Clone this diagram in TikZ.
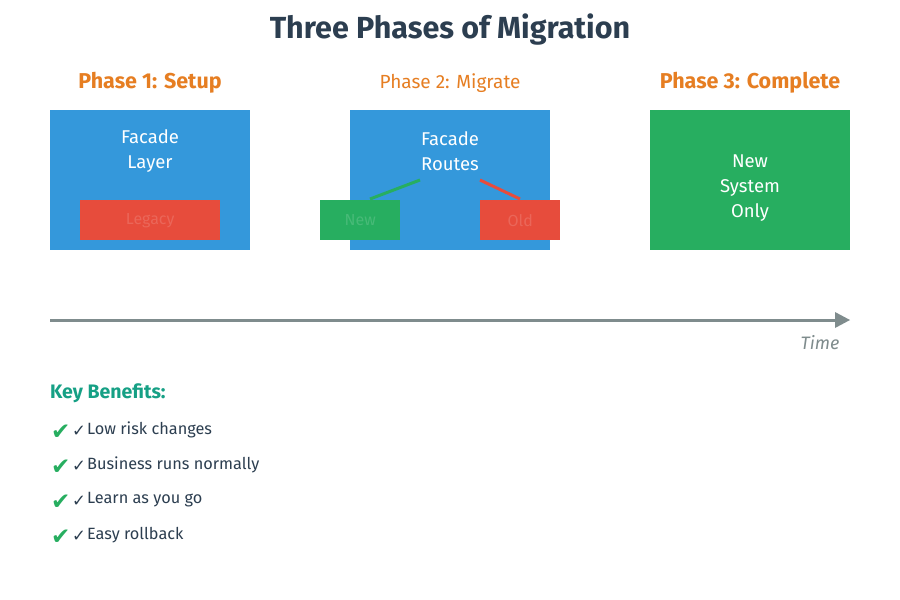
\documentclass[tikz,border=0pt]{standalone}
\usepackage{fontspec}
\setmainfont{Fira Sans}
\newfontfamily\symfont{DejaVu Sans}
\definecolor{titlec}{HTML}{2C3E50}
\definecolor{orangec}{HTML}{E67E22}
\definecolor{bluec}{HTML}{3498DB}
\definecolor{redc}{HTML}{E74C3C}
\definecolor{greenc}{HTML}{27AE60}
\definecolor{grayc}{HTML}{7F8C8D}
\definecolor{tealc}{HTML}{16A085}
\tikzset{
  box/.style={fill=#1, draw=none, inner sep=0pt, anchor=north west},
  boxtext/.style={text=white, font=\fontsize{18.5}{25}\selectfont, align=center},
  faint/.style={text=white, text opacity=0.15, font=\fontsize{16}{18}\selectfont},
  phase/.style={text=orangec, font=\fontsize{21.5}{22}\selectfont\bfseries},
  item/.style={anchor=west, text=titlec, font=\fontsize{16.3}{18}\selectfont, inner sep=0pt},
  gcheck/.style={anchor=west, text=greenc, font=\symfont\fontsize{23}{23}\selectfont, inner sep=0pt},
  dcheck/.style={anchor=west, text=titlec, font=\symfont\fontsize{16.5}{17}\selectfont, inner sep=0pt},
}
\begin{document}
\begin{tikzpicture}[x=1pt,y=-1pt]
\useasboundingbox (0,0) rectangle (900,600);
\fill[white] (0,0) rectangle (900,600);
\node[text=titlec, font=\fontsize{30.5}{32}\selectfont\bfseries] (title) at (450,30) {Three Phases of Migration};
% phase labels
\node[phase] (p1) at (150,83) {Phase 1: Setup};
\node[text=orangec, font=\fontsize{19}{20}\selectfont] (p2) at (450,83) {Phase 2: Migrate};
\node[phase] (p3) at (750,83) {Phase 3: Complete};
% phase 1
\node[box=bluec, minimum width=200pt, minimum height=140pt] (b1) at (50,110) {};
\node[boxtext] (t1) at (150,151) {Facade\\Layer};
\node[box=redc, minimum width=140pt, minimum height=40pt] (legacy) at (80,200) {};
\node[faint] at (legacy.center) {Legacy};
% phase 2
\node[box=bluec, minimum width=200pt, minimum height=140pt] (b2) at (350,110) {};
\node[boxtext] (t2) at (450,151) {Facade\\Routes};
\node[box=greenc, minimum width=80pt, minimum height=40pt] (new) at (320,200) {};
\node[faint] at (new.center) {New};
\node[box=redc, minimum width=80pt, minimum height=40pt] (old) at (480,200) {};
\node[faint] at (old.center) {Old};
\coordinate (gs) at (420,180);
\coordinate (ge) at (370,199);
\coordinate (rs) at (480,180);
\coordinate (re) at (520,199);
\draw[greenc, line width=3pt] (gs) -- (ge);
\draw[redc, line width=3pt] (rs) -- (re);
% phase 3
\node[box=greenc, minimum width=200pt, minimum height=140pt] (b3) at (650,110) {};
\node[boxtext] (t3) at (750,188) {New\\System\\Only};
% time axis
\coordinate (ts) at (50,320);
\coordinate (te) at (850,320);
\draw[grayc, line width=3pt] (ts) -- (835,320);
\fill[grayc] (850,320) -- (835,312) -- (835,328) -- cycle;
\node[anchor=east, text=grayc, font=\fontsize{18}{18}\selectfont\itshape] (time) at (843,343) {Time};
% benefits
\node[anchor=west, text=tealc, font=\fontsize{19.5}{20}\selectfont\bfseries, inner sep=0pt] (kb) at (50,393) {Key Benefits:};
\foreach \t [count=\i] in {Low risk changes, Business runs normally, Learn as you go, Easy rollback}{
  \node[gcheck] (g\i) at (51,397+35*\i) {✔};
  \node[dcheck] (d\i) at (72,396+35*\i) {✓};
  \node[item] (it\i) at (87,395+35*\i) {\t};
}
\end{tikzpicture}
\end{document}
